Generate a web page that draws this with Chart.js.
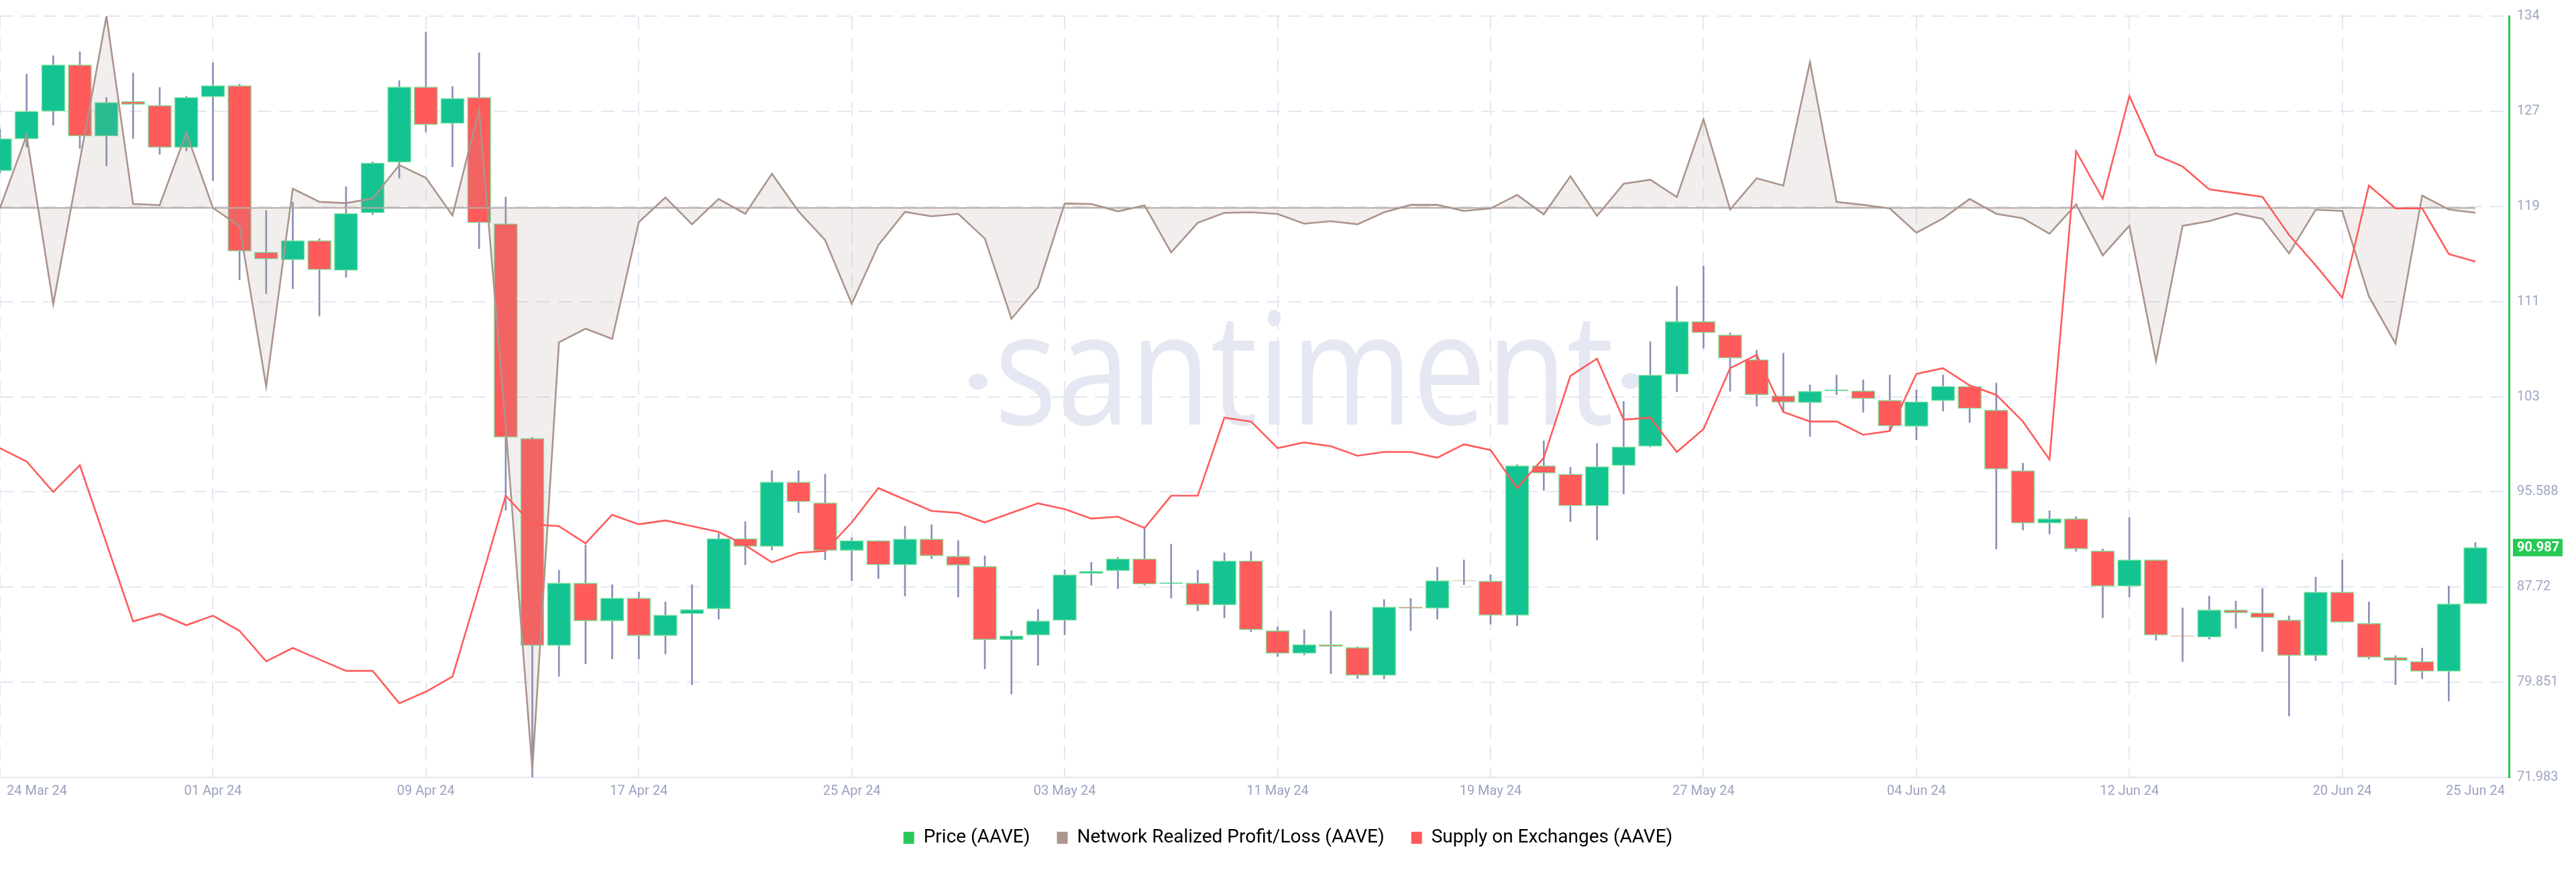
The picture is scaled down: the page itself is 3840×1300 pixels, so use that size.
<!DOCTYPE html>
<html>
<head>
<meta charset="utf-8">
<script src="https://cdn.jsdelivr.net/npm/chart.js@4.4.1/dist/chart.umd.min.js"></script>
<style>
  html, body { margin: 0; padding: 0; background: #fff; }
  #wrap { width: 3840px; height: 1300px; }
</style>
</head>
<body>
<div id="wrap"><canvas id="chart" width="3840" height="1300"></canvas></div>
<script>
// daily candles, day 0 = 24 Mar 24, last = 25 Jun 24
const open = [122.14, 124.77, 127.06, 130.91, 125.01, 127.88, 127.55, 124.07, 128.25, 129.19,
  115.42, 114.77, 116.37, 113.9, 118.66, 122.84, 129.07, 126.04, 128.21, 117.76,
  100.02, 82.88, 88.05, 84.93, 86.82, 83.7, 85.51, 85.92, 91.73, 91.08,
  96.41, 94.69, 90.75, 91.57, 89.56, 91.69, 90.26, 89.44, 83.37, 83.74,
  84.97, 88.83, 89.07, 90.06, 88.0, 88.05, 86.24, 89.89, 84.11, 82.23,
  82.97, 82.72, 80.42, 86.08, 85.96, 88.25, 88.21, 85.38, 97.76, 97.06,
  94.44, 97.76, 99.36, 105.3, 109.68, 108.57, 106.53, 103.54, 102.96, 103.95,
  103.95, 103.17, 101.0, 103.13, 104.32, 102.35, 97.35, 93.01, 93.37, 90.71,
  87.8, 89.97, 83.7, 83.58, 85.83, 85.59, 85.0, 82.06, 87.31, 84.72,
  81.9, 81.57, 80.75, 86.33];
const high = [125.58, 130.13, 131.65, 131.98, 128.2, 130.22, 129.03, 128.3, 131.08, 129.31,
  118.86, 119.56, 116.53, 120.83, 122.88, 129.6, 133.62, 129.11, 131.9, 119.97,
  100.1, 89.11, 91.2, 87.92, 87.31, 86.49, 87.92, 92.15, 93.13, 97.35,
  97.35, 97.06, 91.8, 91.57, 92.76, 92.88, 91.57, 90.3, 84.11, 85.87,
  89.15, 89.77, 90.18, 92.64, 91.28, 89.11, 90.55, 90.67, 84.44, 84.19,
  85.75, 82.8, 86.69, 86.78, 89.36, 89.97, 88.74, 97.84, 99.81, 97.63,
  99.6, 103.08, 108.0, 112.59, 114.27, 108.74, 107.31, 107.06, 104.44, 105.26,
  104.85, 105.26, 104.03, 105.26, 104.32, 104.6, 97.96, 94.03, 93.54, 90.87,
  93.46, 89.97, 86.0, 86.98, 86.57, 87.6, 85.34, 88.54, 89.97, 86.49,
  82.06, 82.68, 87.8, 91.41];
const low = [121.94, 124.11, 125.91, 123.99, 122.55, 124.8, 123.5, 123.78, 121.32, 113.13,
  111.98, 112.39, 110.13, 113.33, 118.5, 121.53, 125.34, 122.47, 115.71, 94.07,
  71.983, 80.34, 81.37, 81.78, 81.78, 82.19, 79.65, 85.06, 89.56, 90.79,
  93.87, 89.97, 88.25, 88.42, 86.98, 90.06, 86.9, 80.96, 78.87, 81.25,
  83.78, 87.88, 87.6, 87.88, 86.82, 85.75, 85.18, 84.03, 81.98, 82.1,
  80.55, 80.17, 80.13, 84.11, 85.06, 87.92, 84.65, 84.52, 95.71, 93.13,
  91.61, 95.42, 99.3, 103.87, 107.47, 103.91, 102.68, 102.27, 100.18, 103.62,
  102.18, 100.63, 99.89, 102.27, 101.33, 90.87, 92.43, 92.1, 90.67, 85.18,
  86.9, 83.33, 81.57, 83.41, 84.32, 82.39, 77.06, 81.65, 84.81, 81.78,
  79.65, 80.13, 78.29, 86.33];
const close = [124.8, 127.06, 130.91, 125.01, 127.8, 127.63, 124.07, 128.21, 129.19, 115.5,
  114.85, 116.37, 113.95, 118.62, 122.8, 129.07, 125.95, 128.13, 117.84, 100.1,
  82.88, 88.05, 84.93, 86.82, 83.7, 85.42, 85.87, 91.73, 91.08, 96.41,
  94.77, 90.75, 91.57, 89.56, 91.69, 90.3, 89.52, 83.37, 83.7, 84.93,
  88.74, 89.03, 90.06, 87.96, 88.09, 86.24, 89.89, 84.19, 82.23, 82.97,
  82.8, 80.42, 86.08, 85.96, 88.25, 88.22, 85.38, 97.76, 97.14, 94.44,
  97.68, 99.32, 105.26, 109.68, 108.74, 106.65, 103.62, 103.0, 103.91, 104.03,
  103.29, 101.04, 103.05, 104.32, 102.47, 97.47, 93.01, 93.37, 90.87, 87.8,
  89.97, 83.74, 83.66, 85.83, 85.59, 85.18, 82.06, 87.31, 84.81, 81.9,
  81.65, 80.75, 86.33, 90.987];

// network realized profit/loss, USD millions
const nrpl = [0, 3.81, -5.05, 2.5, 10.07, 0.21, 0.15, 3.94, 0, -0.96,
  -9.38, 1.01, 0.32, 0.25, 0.5, 2.25, 1.58, -0.4, 5.17, -11.5,
  -29.5, -7.06, -6.34, -6.88, -0.75, 0.55, -0.86, 0.47, -0.31, 1.79,
  -0.18, -1.69, -5.04, -1.95, -0.21, -0.44, -0.31, -1.61, -5.82, -4.16,
  0.23, 0.21, -0.18, 0.13, -2.34, -0.78, -0.26, -0.23, -0.32, -0.83,
  -0.7, -0.86, -0.23, 0.16, 0.16, -0.16, -0.03, 0.68, -0.34, 1.66,
  -0.42, 1.27, 1.48, 0.57, 4.65, -0.08, 1.56, 1.17, 7.66, 0.31,
  0.16, -0.03, -1.3, -0.55, 0.47, -0.31, -0.55, -1.35, 0.18, -2.49,
  -0.94, -8.03, -0.94, -0.7, -0.29, -0.57, -2.39, -0.1, -0.16, -4.65,
  -7.12, 0.65, -0.08, -0.26];

// supply on exchanges, thousand AAVE
const supply = [1573, 1566, 1550, 1564, 1523, 1482, 1486, 1480, 1485, 1477,
  1461, 1468, 1462, 1456, 1456, 1439, 1445, 1453, 1500, 1548,
  1533, 1532, 1523, 1538, 1533, 1535, 1532, 1529, 1522, 1513,
  1518, 1519, 1534, 1552, 1546, 1540, 1539, 1534, 1539, 1544,
  1541, 1536, 1537, 1531, 1548, 1548, 1589, 1587, 1573, 1576,
  1574, 1569, 1571, 1571, 1568, 1575, 1572, 1552, 1568, 1611,
  1620, 1588, 1589, 1571, 1583, 1615, 1622, 1592, 1587, 1587,
  1580, 1582, 1612, 1615, 1606, 1601, 1587, 1567, 1729, 1704,
  1758, 1727, 1721, 1709, 1707, 1705, 1685, 1669, 1652, 1711,
  1699, 1699, 1675, 1671];

const xTickDays = [0, 8, 16, 24, 32, 40, 48, 56, 64, 72, 80, 88, 93];
const xTickLabels = ['24 Mar 24', '01 Apr 24', '09 Apr 24', '17 Apr 24', '25 Apr 24', '03 May 24',
  '11 May 24', '19 May 24', '27 May 24', '04 Jun 24', '12 Jun 24', '20 Jun 24', '25 Jun 24'];

const priceMin = 71.983;
const priceStep = 7.86833;
const priceTicks = [0, 1, 2, 3, 4, 5, 6, 7, 8].map(i => priceMin + i * priceStep);

const GREEN = '#14c392';
const RED = '#ff5b5b';
const GRID = '#e4e7f1';

const days = close.map((c, i) => i);

const watermark = {
    id: 'watermark',
    beforeDatasetsDraw(chart) {
        const ctx = chart.ctx;
        ctx.save();
        ctx.fillStyle = '#e5e8f2';
        ctx.font = '196px "Open Sans"';
        ctx.textAlign = 'center';
        ctx.textBaseline = 'alphabetic';
        ctx.translate(1944, 633);
        ctx.scale(1, 1.19);
        ctx.fillText('santiment', 0, 0);
        ctx.restore();
        ctx.save();
        ctx.fillStyle = '#e5e8f2';
        ctx.beginPath();
        ctx.ellipse(1458, 569, 14, 12, 0, 0, Math.PI * 2);
        ctx.ellipse(2431, 568, 14, 12, 0, 0, Math.PI * 2);
        ctx.fill();
        ctx.restore();
    }
};

// date labels under the axis; the first one is kept inside the canvas
const xLabels = {
    id: 'xLabels',
    afterDraw(chart) {
        const ctx = chart.ctx;
        const xs = chart.scales.x;
        const y = chart.chartArea.bottom + 21;
        ctx.save();
        ctx.font = '20px Roboto';
        ctx.fillStyle = '#9aa2c1';
        ctx.textBaseline = 'middle';
        ctx.textAlign = 'left';
        xTickDays.forEach((d, i) => {
            const w = ctx.measureText(xTickLabels[i]).width;
            let left = xs.getPixelForValue(d) - w / 2;
            if (left < 10) left = 10;
            ctx.fillText(xTickLabels[i], left, y);
        });
        ctx.restore();
    }
};

const lastPrice = {
    id: 'lastPrice',
    afterDraw(chart) {
        const ctx = chart.ctx;
        const ys = chart.scales.yPrice;
        const v = close[close.length - 1];
        const y = ys.getPixelForValue(v);
        ctx.save();
        ctx.fillStyle = '#26c953';
        ctx.fillRect(ys.left + 6, y - 13, 74, 26);
        ctx.fillStyle = '#ffffff';
        ctx.font = 'bold 20px Roboto';
        ctx.textAlign = 'left';
        ctx.textBaseline = 'middle';
        ctx.fillText(v.toFixed(3), ys.left + 12, y + 1);
        ctx.restore();
    }
};

const legendItems = [
    { text: 'Price (AAVE)', fillStyle: '#2ac85a', strokeStyle: '#2ac85a', lineWidth: 0, hidden: false, datasetIndex: 1 },
    { text: 'Network Realized Profit/Loss (AAVE)', fillStyle: '#ad968d', strokeStyle: '#ad968d', lineWidth: 0, hidden: false, datasetIndex: 3 },
    { text: 'Supply on Exchanges (AAVE)', fillStyle: RED, strokeStyle: RED, lineWidth: 0, hidden: false, datasetIndex: 4 }
];

new Chart(document.getElementById('chart').getContext('2d'), {
    type: 'line',
    data: {
        datasets: [{
            type: 'bar',
            label: 'wick',
            data: days.map(i => ({ x: i, y: [low[i], high[i]] })),
            backgroundColor: '#8790b7',
            barThickness: 2,
            grouped: false,
            yAxisID: 'yPrice',
            order: 5
        }, {
            type: 'bar',
            label: 'Price (AAVE)',
            data: days.map(i => ({ x: i, y: [open[i], close[i]] })),
            backgroundColor: ctx => close[ctx.dataIndex] >= open[ctx.dataIndex] ? GREEN : RED,
            borderColor: '#80e29d',
            borderWidth: 1.5,
            borderSkipped: false,
            barThickness: 35,
            grouped: false,
            yAxisID: 'yPrice',
            order: 4
        }, {
            type: 'line',
            label: 'zero',
            data: days.map(i => ({ x: i, y: 0 })),
            borderColor: '#bcaca6',
            borderWidth: 2,
            pointRadius: 0,
            fill: false,
            yAxisID: 'yNrpl',
            order: 3
        }, {
            type: 'line',
            label: 'Network Realized Profit/Loss (AAVE)',
            data: days.map(i => ({ x: i, y: nrpl[i] })),
            borderColor: '#ab948c',
            borderWidth: 2.6,
            backgroundColor: 'rgba(171,148,140,0.16)',
            fill: 'origin',
            pointRadius: 0,
            tension: 0,
            yAxisID: 'yNrpl',
            order: 2
        }, {
            type: 'line',
            label: 'Supply on Exchanges (AAVE)',
            data: days.map(i => ({ x: i, y: supply[i] })),
            borderColor: RED,
            borderWidth: 2.6,
            pointRadius: 0,
            fill: false,
            tension: 0,
            yAxisID: 'ySupply',
            order: 1
        }]
    },
    options: {
        responsive: false,
        animation: false,
        devicePixelRatio: 1,
        layout: { padding: { top: 13, left: 0, right: 0, bottom: 27 } },
        scales: {
            x: {
                type: 'linear',
                min: 0,
                max: 94.26,
                offset: false,
                afterBuildTicks: scale => { scale.ticks = xTickDays.slice(0, -1).map(v => ({ value: v })); },
                afterFit: scale => { scale.height = 36; },
                ticks: { display: false },
                grid: { color: GRID, lineWidth: 2, drawTicks: false, offset: false },
                border: { display: true, color: '#e3e6ef', width: 2, dash: [20, 12] }
            },
            yPrice: {
                position: 'right',
                min: priceMin,
                max: priceMin + 8 * priceStep,
                afterBuildTicks: scale => { scale.ticks = priceTicks.map(v => ({ value: v })); },
                afterFit: scale => { scale.width = 100; },
                ticks: {
                    padding: 12,
                    color: '#9ea6c3',
                    font: { size: 20, family: 'Roboto' },
                    callback: v => v >= 100 ? String(Math.floor(v)) : String(parseFloat(v.toFixed(3)))
                },
                grid: { color: GRID, lineWidth: 2, drawTicks: false },
                border: { color: '#2bc24f', width: 3, dash: [20, 12] }
            },
            yNrpl: { display: false, min: -29.9, max: 10.07 },
            ySupply: { display: false, min: 1400, max: 1800 }
        },
        plugins: {
            legend: {
                position: 'bottom',
                onClick: null,
                labels: {
                    boxWidth: 16,
                    boxHeight: 18,
                    padding: 40,
                    color: '#1b1f2e',
                    font: { size: 28, family: 'Roboto' },
                    generateLabels: () => legendItems
                }
            },
            tooltip: { enabled: false }
        }
    },
    plugins: [watermark, xLabels, lastPrice]
});
</script>
</body>
</html>
